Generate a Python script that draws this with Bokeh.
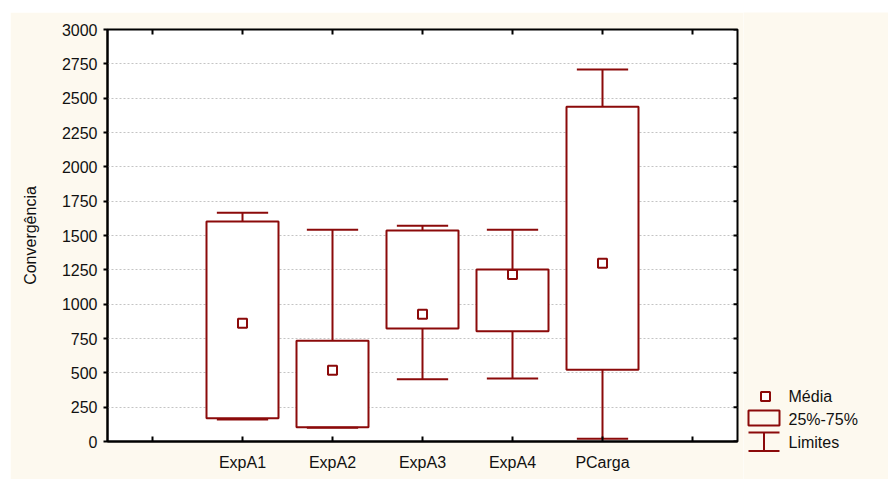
import math
from bokeh.plotting import figure
from bokeh.layouts import row, column
from bokeh.models import FixedTicker, Range1d, Spacer
from bokeh.core.properties import value
from bokeh.embed import file_html
from bokeh.resources import INLINE

# ---- data ----
categories = ["ExpA1", "ExpA2", "ExpA3", "ExpA4", "PCarga"]
positions = [1, 2, 3, 4, 5]
mins = [160, 100, 454, 459, 20]
q1 = [170, 104, 823, 803, 522]
q3 = [1602, 733, 1537, 1252, 2437]
maxs = [1665, 1542, 1571, 1542, 2709]
means = [861, 519, 927, 1216, 1298]
x_ticks = [0, 1, 2, 3, 4, 5, 6]
y_ticks = list(range(0, 3001, 250))
legend_labels = ["Média", "25%-75%", "Limites"]

RED = "#8b0a0a"
CREAM = "#fdf9ef"
FONT = "Liberation Sans"
FS = "16px"

X0, X1 = -0.5, 6.5
Y0, Y1 = 0, 3000
W_MAIN, H = 733, 467

p = figure(width=W_MAIN, height=H, output_backend="svg", toolbar_location=None,
           title=None,
           x_range=Range1d(X0, X1), y_range=Range1d(Y0, Y1),
           min_border_left=97, min_border_right=6, min_border_top=17, min_border_bottom=38,
           background_fill_color="white", border_fill_color=CREAM,
           outline_line_color="black", outline_line_width=2)

# grid
p.xgrid.grid_line_color = None
p.ygrid.ticker = FixedTicker(ticks=y_ticks)
p.ygrid.grid_line_color = "#c4c4c4"
p.ygrid.grid_line_dash = "2 2"
p.ygrid.grid_line_width = 1

# boxes
p.vbar(x=positions, top=q3, bottom=q1, width=0.8, fill_color="white",
       line_color=RED, line_width=2)
# whiskers
p.segment(x0=positions, y0=q3, x1=positions, y1=maxs, line_color=RED, line_width=2)
p.segment(x0=positions, y0=q1, x1=positions, y1=mins, line_color=RED, line_width=2)
# caps
cap_half = 0.285
p.segment(x0=[x - cap_half for x in positions], y0=maxs,
          x1=[x + cap_half for x in positions], y1=maxs, line_color=RED, line_width=2)
p.segment(x0=[x - cap_half for x in positions], y0=mins,
          x1=[x + cap_half for x in positions], y1=mins, line_color=RED, line_width=2)
# means
p.scatter(x=positions, y=means, marker="square", size=9, fill_color="white",
          line_color=RED, line_width=2)

# inner ticks on top and right frame edges (half of each dash is clipped away)
p.scatter(x=[X1] * len(y_ticks), y=y_ticks, marker="dash", size=8,
          line_color="black", line_width=2)
p.scatter(x=x_ticks, y=[Y1] * len(x_ticks), marker="dash", angle=math.pi / 2, size=10,
          line_color="black", line_width=2)

# axes
overrides = {i: "" for i in x_ticks}
for pos, c in zip(positions, categories):
    overrides[pos] = c

p.xaxis.ticker = FixedTicker(ticks=x_ticks)
p.xaxis.major_label_overrides = overrides
p.yaxis.ticker = FixedTicker(ticks=y_ticks)
p.yaxis.axis_label = "Convergência"

for ax in p.xaxis + p.yaxis:
    ax.axis_line_color = "black"
    ax.axis_line_width = 2
    ax.major_tick_line_color = "black"
    ax.major_tick_line_width = 2
    ax.minor_tick_line_color = None
    ax.major_label_text_font = FONT
    ax.major_label_text_font_size = FS
    ax.major_label_text_color = "#111111"
    ax.axis_label_text_font = FONT
    ax.axis_label_text_font_size = FS
    ax.axis_label_text_font_style = "normal"
    ax.axis_label_text_color = "#111111"

p.xaxis.major_tick_in = 5
p.xaxis.major_tick_out = 0
p.xaxis.major_label_standoff = 12
p.yaxis.major_tick_in = 0
p.yaxis.major_tick_out = 4
p.yaxis.major_label_standoff = 6
p.yaxis.axis_label_standoff = 20

# ---- legend panel ----
W_LEG = 145
lg = figure(width=W_LEG, height=H, output_backend="svg", toolbar_location=None,
            title=None, x_axis_location=None, y_axis_location=None,
            x_range=Range1d(0, W_LEG), y_range=Range1d(H, 0),
            min_border=0, min_border_left=0, min_border_right=0,
            min_border_top=0, min_border_bottom=0,
            background_fill_color=CREAM, border_fill_color=CREAM,
            outline_line_color=None)
lg.grid.visible = False

lg.scatter(x=[22], y=[384], marker="square", size=9, fill_color="white",
           line_color=RED, line_width=2)
lg.quad(left=[5], right=[36], top=[398], bottom=[413], fill_color=CREAM,
        line_color=RED, line_width=2)
lg.segment(x0=[5, 5, 20.5], y0=[420, 438.5, 420], x1=[36, 36, 20.5], y1=[420, 438.5, 438.5],
           line_color=RED, line_width=2)
lg.text(x=[45, 45, 45], y=[384, 407, 430], text=legend_labels,
        text_font=value(FONT), text_font_size=FS, text_color="#111111",
        text_baseline="middle", text_align="left")

layout = column(Spacer(height=12),
                row(Spacer(width=10), p, column(lg, spacing=0), spacing=0),
                spacing=0)
open("out.html", "w").write(file_html(layout, INLINE))
